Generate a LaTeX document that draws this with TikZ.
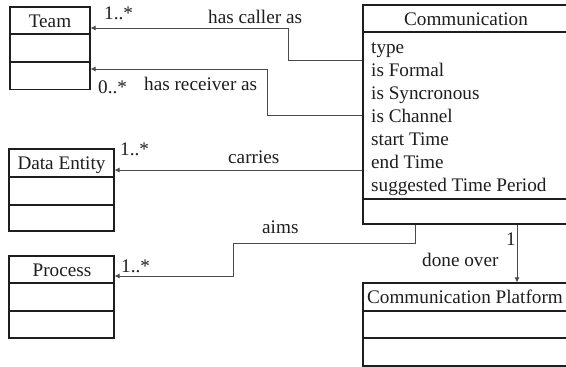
\documentclass[tikz,border=0pt]{standalone}
\usepackage{fontspec}
\setmainfont{Liberation Serif}
\usetikzlibrary{arrows.meta}
\definecolor{ink}{HTML}{1E1E1E}
\definecolor{wire}{HTML}{4A4A4A}
\begin{document}
\begin{tikzpicture}[x=1pt,y=-1pt,
  cls/.style={draw=ink,line width=1.1pt,inner sep=0pt,rectangle},
  divider/.style={draw=ink,line width=1.1pt},
  txt/.style={inner sep=0pt,anchor=base,text=ink,font=\fontsize{19.2}{23}\selectfont},
  txtl/.style={txt,anchor=base west},
  assoc/.style={draw=wire,line width=0.9pt,-{Latex[length=5pt,width=5pt]}}]
\useasboundingbox[fill=white] (0,0) rectangle (566,367);
% classes
\node[cls,minimum width=80pt,minimum height=82.5pt] (team) at (50,48.25) {};
\node[cls,minimum width=205pt,minimum height=219pt] (comm) at (465.5,114.5) {};
\node[cls,minimum width=105pt,minimum height=82pt] (data) at (61.5,190) {};
\node[cls,minimum width=105pt,minimum height=82pt] (proc) at (61.5,297) {};
\node[cls,minimum width=205pt,minimum height=83pt] (plat) at (465.5,324.5) {};
% dividers
\draw[divider] (team.west |- 0,34) -- (team.east |- 0,34);
\draw[divider] (team.west |- 0,62) -- (team.east |- 0,62);
\draw[divider] (comm.west |- 0,32) -- (comm.east |- 0,32);
\draw[divider] (comm.west |- 0,199) -- (comm.east |- 0,199);
\draw[divider] (data.west |- 0,177) -- (data.east |- 0,177);
\draw[divider] (data.west |- 0,205) -- (data.east |- 0,205);
\draw[divider] (proc.west |- 0,283) -- (proc.east |- 0,283);
\draw[divider] (proc.west |- 0,311) -- (proc.east |- 0,311);
\draw[divider] (plat.west |- 0,311) -- (plat.east |- 0,311);
\draw[divider] (plat.west |- 0,338) -- (plat.east |- 0,338);
% headers
\node[txt] (teamname) at (50,27.5) {Team};
\node[txt] (commname) at (466,25) {Communication};
\node[txt] (dataname) at (61.5,169.5) {Data Entity};
\node[txt] (procname) at (62,276) {Process};
\node[txt] (platname) at (465,303.5) {Communication Platform};
% attributes
\node[txtl] (a1) at (371,53) {type};
\node[txtl] (a2) at (371,76) {is Formal};
\node[txtl] (a3) at (371,99) {is Syncronous};
\node[txtl] (a4) at (371,122) {is Channel};
\node[txtl] (a5) at (371,145) {start Time};
\node[txtl] (a6) at (371,168) {end Time};
\node[txtl] (a7) at (371,191) {suggested Time Period};
% connectors
\draw[assoc] (comm.west |- 0,60) -| (288,28) -- (team.east |- 0,28);
\draw[assoc] (comm.west |- 0,115) -| (267,69) -- (team.east |- 0,69);
\draw[assoc] (comm.west |- 0,170) -- (data.east |- 0,170);
\draw[assoc] (comm.south -| 415,0) -- (415,243) -- (233,243) -- (233,276) -- (proc.east |- 0,276);
\draw[assoc] (comm.south -| 517,0) -- (plat.north -| 517,0);
% labels
\node[txtl] (m1) at (104,19) {1..*};
\node[txtl] (l1) at (208,23) {has caller as};
\node[txtl] (m2) at (98,93) {0..*};
\node[txtl] (l2) at (144,90) {has receiver as};
\node[txtl] (m3) at (120,155) {1..*};
\node[txtl] (l3) at (228,163) {carries};
\node[txtl] (m4) at (121,272) {1..*};
\node[txtl] (l4) at (262,233) {aims};
\node[txt,anchor=base east] (m5) at (516,245) {1};
\node[txtl] (l5) at (422,266) {done over};
\end{tikzpicture}
\end{document}
